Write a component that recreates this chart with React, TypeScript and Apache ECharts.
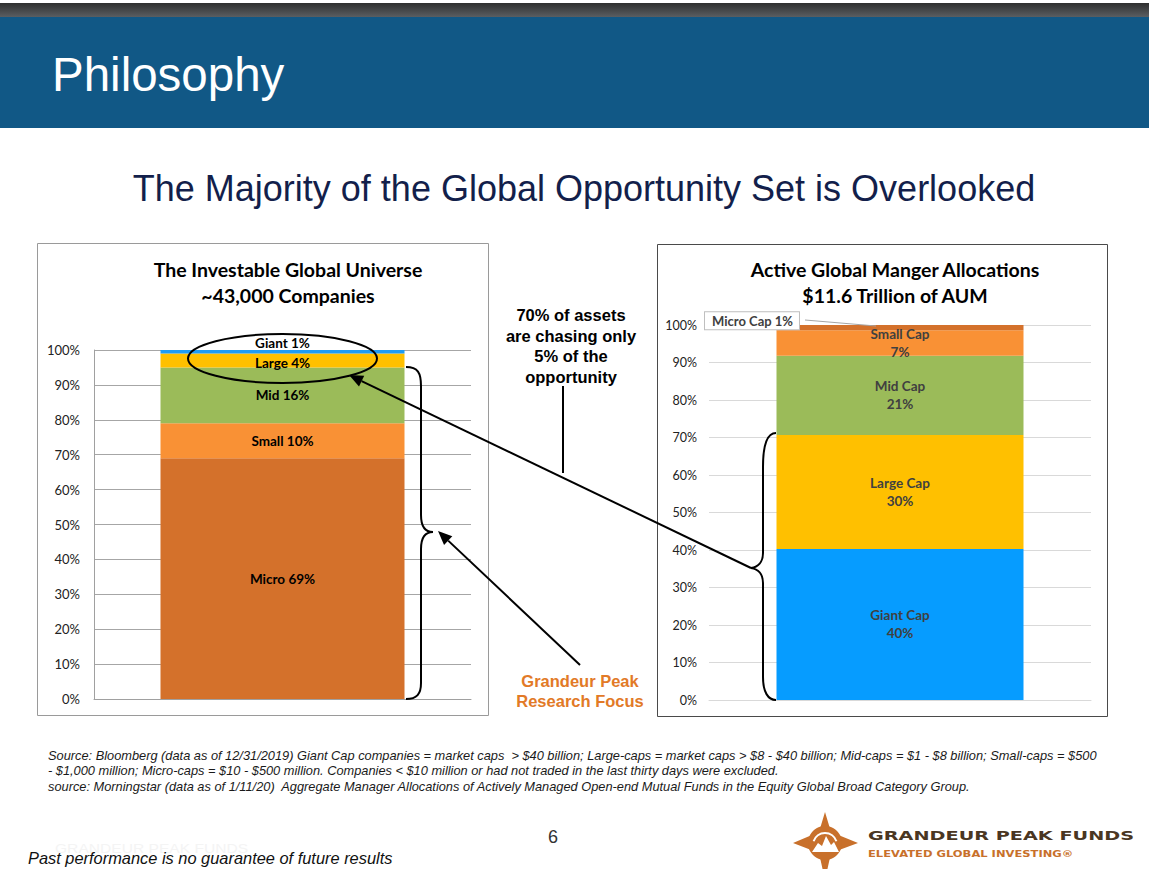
import React, { useEffect, useRef } from "react";
import * as echarts from "echarts";

// ---- data ----
const universeNames = ["Micro", "Small", "Mid", "Large", "Giant"];
const universeValues = [69, 10, 16, 4, 1];
const universeColors = ["#D4712B", "#F99135", "#9BBB59", "#FFC000", "#1E9CF5"];

const allocNames = ["Giant Cap", "Large Cap", "Mid Cap", "Small Cap", "Micro Cap"];
const allocValues = [40.3, 30.4, 21.1, 6.8, 1.4];
const allocColors = ["#069CFF", "#FFC000", "#9BBB59", "#F99135", "#D4712B"];

const yMin = 0;
const yMax = 100;
const yInterval = 10;

const footnotes = [
  "Source: Bloomberg (data as of 12/31/2019) Giant Cap companies = market caps  > $40 billion; Large-caps = market caps > $8 - $40 billion; Mid-caps = $1 - $8 billion; Small-caps = $500",
  "- $1,000 million; Micro-caps = $10 - $500 million. Companies < $10 million or had not traded in the last thirty days were excluded.",
  "source: Morningstar (data as of 1/11/20)  Aggregate Manager Allocations of Actively Managed Open-end Mutual Funds in the Equity Global Broad Category Group.",
];

const braceLeft =
  "M406 367 C418 367 421 373 421 386 L421 515 C421 526 425 532 433 532 C425 532 421 538 421 549 L421 683 C421 694 417 699 406 699";
const braceRight =
  "M776 433 C767 433 763 444 763 467 L763 553 C763 562 758 567 751 568 C758 569 763 574 763 583 L763 677 C763 692 768 700 776 700";
const logoStar =
  "M825 812 L831 832 L858 843 L831 853 L825 880 L819 853 L793 843 L819 832 Z";

echarts.graphic.registerShape("braceL", echarts.graphic.extendPath(braceLeft, {}));
echarts.graphic.registerShape("braceR", echarts.graphic.extendPath(braceRight, {}));
echarts.graphic.registerShape("logoStar", echarts.graphic.extendPath(logoStar, {}));

const CAL = "Lato, 'Open Sans', sans-serif";
const ARI = "'Liberation Sans', Arial, sans-serif";

function txt(text: string, x: number, y: number, o: any = {}) {
  return {
    type: "text",
    x,
    y,
    scaleX: o.scaleX ?? 1,
    silent: true,
    style: {
      text,
      fill: o.fill ?? "#000",
      fontSize: o.size ?? 12,
      fontWeight: o.weight ?? "normal",
      fontStyle: o.style ?? "normal",
      fontFamily: o.family ?? ARI,
      textAlign: o.align ?? "center",
      textVerticalAlign: "middle",
      lineHeight: o.lh,
    },
  };
}

export default function App() {
  const ref = useRef<HTMLDivElement>(null);
  useEffect(() => {
    if (!ref.current) return;
    const chart = echarts.init(ref.current, undefined, { renderer: "svg" });

    const leftSeries = universeNames.map((n, i) => ({
      name: n,
      type: "bar",
      stack: "universe",
      xAxisIndex: 0,
      yAxisIndex: 0,
      barWidth: 244,
      data: [universeValues[i]],
      itemStyle: { color: universeColors[i] },
      label: {
        show: true,
        position: n === "Giant" ? "top" : "inside",
        distance: 0,
        offset: n === "Large" ? [0, 3] : [0, 0],
        formatter: (p: any) => `${p.seriesName} ${p.value}%`,
        color: "#000",
        fontFamily: CAL,
        fontWeight: "bold",
        fontSize: 13.5,
      },
    }));

    const rightSeries = allocNames.map((n, i) => ({
      name: n,
      type: "bar",
      stack: "alloc",
      xAxisIndex: 1,
      yAxisIndex: 1,
      barWidth: 247,
      data: [allocValues[i]],
      itemStyle: { color: allocColors[i] },
      label:
        n === "Micro Cap"
          ? {
              show: true,
              position: "inside",
              offset: [-148, -7],
              formatter: (p: any) => `${p.seriesName} ${Math.round(p.value)}%`,
              color: "#404040",
              fontFamily: CAL,
              fontWeight: "bold",
              fontSize: 13,
              backgroundColor: "#fff",
              borderColor: "#BFBFBF",
              borderWidth: 1,
              padding: [2, 6, 2, 7],
            }
          : {
              show: true,
              position: "inside",
              formatter: (p: any) => `${p.seriesName}\n${Math.round(p.value)}%`,
              color: "#404040",
              fontFamily: CAL,
              fontWeight: "bold",
              fontSize: 13.5,
              lineHeight: 18,
            },
    }));

    const yAxisBase = {
      type: "value",
      min: yMin,
      max: yMax,
      interval: yInterval,
      axisTick: { show: false },
    };

    const arrow1 = { tip: [438, 531], from: [580, 665] };
    const arrow2 = { tip: [349, 375], from: [751, 568] };
    const head = (a: any) => {
      const dx = a.tip[0] - a.from[0];
      const dy = a.tip[1] - a.from[1];
      const L = Math.hypot(dx, dy);
      const ux = dx / L, uy = dy / L;
      const bx = a.tip[0] - 14 * ux, by = a.tip[1] - 14 * uy;
      const px = -uy * 6, py = ux * 6;
      return {
        line: [a.from[0], a.from[1], bx, by],
        poly: [a.tip, [bx + px, by + py], [bx - px, by - py]],
      };
    };
    const h1 = head(arrow1);
    const h2 = head(arrow2);

    const graphic: any[] = [
      // header
      {
        type: "rect",
        shape: { x: 0, y: 3, width: 1149, height: 14 },
        style: {
          fill: new echarts.graphic.LinearGradient(0, 0, 0, 1, [
            { offset: 0, color: "#2f2f2f" },
            { offset: 1, color: "#5a5e62" },
          ]),
        },
        silent: true,
      },
      { type: "rect", shape: { x: 0, y: 17, width: 1149, height: 111 }, style: { fill: "#115886" }, silent: true },
      txt("Philosophy", 52, 74, { fill: "#fff", size: 47.5, align: "left" }),
      txt("The Majority of the Global Opportunity Set is Overlooked", 584, 188, { fill: "#131f4b", size: 36 }),
      // panels
      { type: "rect", shape: { x: 37.5, y: 243.5, width: 451, height: 472 }, style: { fill: "none", stroke: "#9a9a9a", lineWidth: 1 }, silent: true },
      { type: "rect", shape: { x: 657.5, y: 244.5, width: 450, height: 472 }, style: { fill: "none", stroke: "#4a4a4a", lineWidth: 1 }, silent: true },
      txt("The Investable Global Universe\n~43,000 Companies", 288, 282, { size: 19.5, weight: "bold", family: CAL, lh: 26 }),
      txt("Active Global Manger Allocations\n$11.6 Trillion of AUM", 895, 282, { size: 19.5, weight: "bold", family: CAL, lh: 26 }),
      // middle annotation
      txt("70% of assets\nare chasing only\n5% of the\nopportunity", 571, 346, { size: 16.5, weight: "bold", lh: 20.5 }),
      { type: "line", shape: { x1: 563, y1: 386, x2: 563, y2: 473 }, style: { stroke: "#000", lineWidth: 2 }, silent: true },
      txt("Grandeur Peak\nResearch Focus", 580, 691, { size: 16.5, weight: "bold", fill: "#E27A27", lh: 20 }),
      // ellipse, braces, arrows
      { type: "ellipse", shape: { cx: 282.5, cy: 358.5, rx: 94.5, ry: 24.5 }, style: { fill: "none", stroke: "#000", lineWidth: 2 }, silent: true, z: 10 },
      { type: "braceL", style: { fill: "none", stroke: "#000", lineWidth: 2 }, silent: true, z: 10 },
      { type: "braceR", style: { fill: "none", stroke: "#000", lineWidth: 2 }, silent: true, z: 10 },
      { type: "line", shape: { x1: h1.line[0], y1: h1.line[1], x2: h1.line[2], y2: h1.line[3] }, style: { stroke: "#000", lineWidth: 2 }, silent: true, z: 10 },
      { type: "polygon", shape: { points: h1.poly }, style: { fill: "#000" }, silent: true, z: 10 },
      { type: "line", shape: { x1: h2.line[0], y1: h2.line[1], x2: h2.line[2], y2: h2.line[3] }, style: { stroke: "#000", lineWidth: 2 }, silent: true, z: 10 },
      { type: "polygon", shape: { points: h2.poly }, style: { fill: "#000" }, silent: true, z: 10 },
      // micro cap leader line
      { type: "line", shape: { x1: 805, y1: 320, x2: 876, y2: 326 }, style: { stroke: "#A6A6A6", lineWidth: 1 }, silent: true, z: 10 },
      // footnotes
      ...footnotes.map((f, i) => txt(f, 48, 755 + i * 15.7, { size: 12.8, style: "italic", align: "left", fill: "#1a1a1a" })),
      txt("6", 553, 837, { size: 18, fill: "#333" }),
      txt("GRANDEUR PEAK FUNDS", 55, 849, { size: 12, align: "left", fill: "#f4f4f4", scaleX: 1.3 }),
      txt("Past performance is no guarantee of future results", 28, 858, { size: 16.4, style: "italic", align: "left", fill: "#111" }),
      // logo
      { type: "logoStar", style: { fill: "#C8702B" }, silent: true },
      { type: "circle", shape: { cx: 825, cy: 843, r: 17 }, style: { fill: "#C8702B" }, silent: true },
      { type: "arc", shape: { cx: 825, cy: 845, r: 12, startAngle: Math.PI * 1.1, endAngle: Math.PI * 1.9 }, style: { fill: "none", stroke: "#fff", lineWidth: 2 }, silent: true },
      { type: "polygon", shape: { points: [[812, 852], [818, 843], [822, 846], [826, 836], [831, 845], [834, 842], [839, 852]] }, style: { fill: "#fff" }, silent: true },
      txt("GRANDEUR PEAK FUNDS", 868, 836, { size: 13, weight: "bold", family: "'DejaVu Sans', sans-serif", align: "left", fill: "#4a3622", scaleX: 1.48 }),
      txt("ELEVATED GLOBAL INVESTING®", 868, 854, { size: 8, weight: "bold", family: "'DejaVu Sans', sans-serif", align: "left", fill: "#C8702B", scaleX: 1.44 }),
    ];

    chart.setOption({
      animation: false,
      backgroundColor: "#fff",
      grid: [
        { left: 94, top: 350, width: 377, height: 349 },
        { left: 709, top: 325, width: 382, height: 375 },
      ],
      xAxis: [
        {
          type: "category",
          gridIndex: 0,
          data: ["Universe"],
          axisTick: { show: false },
          axisLabel: { show: false },
          axisLine: { lineStyle: { color: "#A0A0A0" } },
        },
        {
          type: "category",
          gridIndex: 1,
          data: ["Allocations"],
          axisTick: { show: false },
          axisLabel: { show: false },
          axisLine: { lineStyle: { color: "#D9D9D9" } },
        },
      ],
      yAxis: [
        {
          ...yAxisBase,
          gridIndex: 0,
          axisLine: { show: true, lineStyle: { color: "#A0A0A0" } },
          splitLine: { lineStyle: { color: "#A6A6A6" } },
          axisLabel: { formatter: "{value}%", color: "#222", fontFamily: CAL, fontSize: 13, margin: 14 },
        },
        {
          ...yAxisBase,
          gridIndex: 1,
          axisLine: { show: false },
          splitLine: { lineStyle: { color: "#D9D9D9" } },
          axisLabel: { formatter: "{value}%", color: "#222", fontFamily: CAL, fontSize: 12.5, margin: 12 },
        },
      ],
      series: [...leftSeries, ...rightSeries],
      graphic,
    });
    return () => chart.dispose();
  }, []);
  return (
    <div
      ref={ref}
      style={{ position: "absolute", left: 0, top: 0, width: 1149, height: 869 }}
    />
  );
}
